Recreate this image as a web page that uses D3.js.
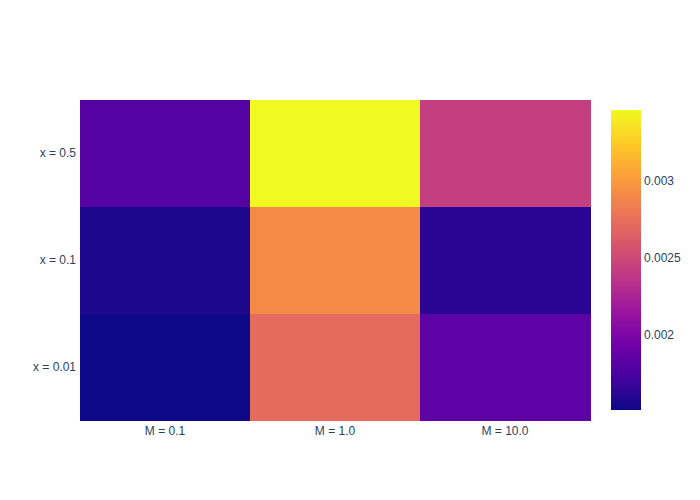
<!DOCTYPE html>
<html>
<meta charset="utf-8">
<title>Heatmap</title>
<style>
body {
  margin: 0;
  background: #fff;
}
text {
  font-family: "Liberation Sans", Arial, sans-serif;
  font-size: 12px;
  fill: #2a3f5f;
}
</style>
<body>
<div id="chart"></div>
<script src="https://d3js.org/d3.v7.min.js"></script>
<script>

// data
var xCats = ["M = 0.1", "M = 1.0", "M = 10.0"];
var yCats = ["x = 0.01", "x = 0.1", "x = 0.5"];
var rowX001 = [0.00151, 0.00272, 0.00184];
var rowX01 = [0.00157, 0.00291, 0.00162];
var rowX05 = [0.00180, 0.00346, 0.00243];
var cbTicks = [0.002, 0.0025, 0.003];

var zRows = [rowX001, rowX01, rowX05];

var width = 700, height = 500;
var margin = {top: 100, right: 110, bottom: 80, left: 80};

var plasma = ['#0d0887', '#46039f', '#7201a8', '#9c179e', '#bd3786',
  '#d8576b', '#ed7953', '#fb9f3a', '#fdca26', '#f0f921'];

var cells = [];
zRows.forEach(function(row, i) {
  row.forEach(function(v, j) {
    cells.push({x: xCats[j], y: yCats[i], value: v});
  });
});

var zExtent = d3.extent(cells, function(d) { return d.value; });

var color = d3.scaleLinear()
  .domain(plasma.map(function(c, i) {
    return zExtent[0] + (zExtent[1] - zExtent[0]) * i / (plasma.length - 1);
  }))
  .range(plasma)
  .interpolate(d3.interpolateRgb);

var svg = d3.select("#chart").append("svg")
  .attr("width", width)
  .attr("height", height);

var x = d3.scaleBand()
  .domain(xCats)
  .range([margin.left, width - margin.right]);

var y = d3.scaleBand()
  .domain(yCats)
  .range([height - margin.bottom, margin.top]);

svg.append("g").selectAll("rect")
  .data(cells)
  .enter().append("rect")
  .attr("x", function(d) { return x(d.x); })
  .attr("y", function(d) { return y(d.y); })
  .attr("width", x.bandwidth() + 0.5)
  .attr("height", y.bandwidth() + 0.5)
  .attr("fill", function(d) { return color(d.value); })
  .attr("shape-rendering", "crispEdges");

// axes
var xAxis = svg.append("g")
  .attr("transform", "translate(0," + (height - margin.bottom) + ")")
  .call(d3.axisBottom(x).tickSize(0).tickPadding(6));
var yAxis = svg.append("g")
  .attr("transform", "translate(" + margin.left + ",0)")
  .call(d3.axisLeft(y).tickSize(0).tickPadding(4));
[xAxis, yAxis].forEach(function(a) {
  a.select(".domain").remove();
  a.selectAll("text").attr("font-family", null).attr("font-size", null)
    .style("fill", "#2a3f5f");
});

// colorbar
var cbX = 611, cbW = 30;
var cbTop = margin.top + 10, cbBottom = height - margin.bottom - 10;
var cbScale = d3.scaleLinear()
  .domain(zExtent)
  .range([cbBottom, cbTop]);

var grad = svg.append("defs").append("linearGradient")
  .attr("id", "cbgrad")
  .attr("x1", 0).attr("y1", 1).attr("x2", 0).attr("y2", 0);
plasma.forEach(function(c, i) {
  grad.append("stop")
    .attr("offset", (i / (plasma.length - 1)))
    .attr("stop-color", c);
});

svg.append("rect")
  .attr("x", cbX)
  .attr("y", cbTop)
  .attr("width", cbW)
  .attr("height", cbBottom - cbTop)
  .attr("fill", "url(#cbgrad)");

var cbAxis = svg.append("g")
  .attr("transform", "translate(" + (cbX + cbW) + ",0)")
  .call(d3.axisRight(cbScale).tickValues(cbTicks).tickSize(0).tickPadding(3)
    .tickFormat(function(d) { return String(+d.toFixed(4)); }));
cbAxis.select(".domain").remove();
cbAxis.selectAll("text").attr("font-family", null).attr("font-size", null)
  .style("fill", "#2a3f5f");

</script>
</body>
</html>
